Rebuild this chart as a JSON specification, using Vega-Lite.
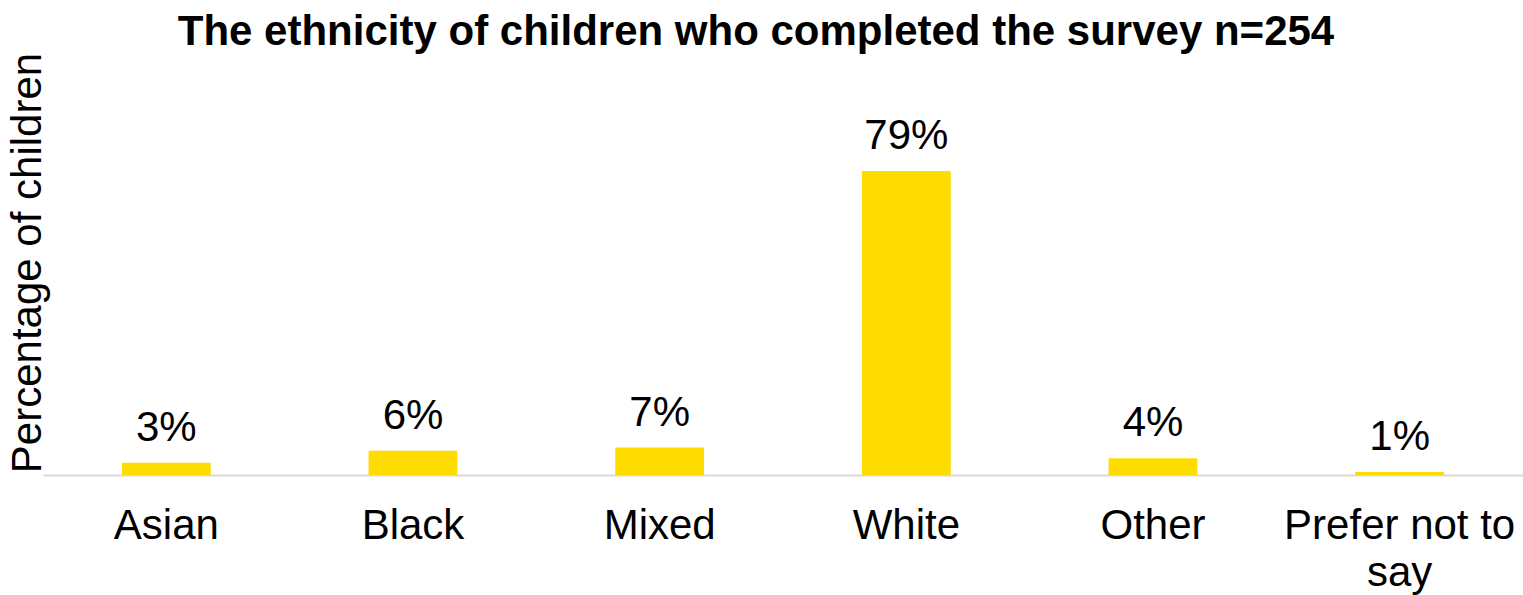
{
  "$schema": "https://vega.github.io/schema/vega-lite/v6.json",
  "autosize": {"type": "none"},
  "padding": {"left": 43, "top": 50, "right": 0, "bottom": 120},
  "width": 1480,
  "height": 425,
  "background": "white",
  "title": {
    "text": "The ethnicity of children who completed the survey n=254",
    "font": "Liberation Sans",
    "fontSize": 42,
    "fontWeight": "bold",
    "color": "#000000",
    "anchor": "middle",
    "dx": -27,
    "offset": -4
  },
  "data": {
    "values": [
      {"ethnicity": "Asian", "share": 0.0315},
      {"ethnicity": "Black", "share": 0.063},
      {"ethnicity": "Mixed", "share": 0.0709},
      {"ethnicity": "White", "share": 0.787},
      {"ethnicity": "Other", "share": 0.0433},
      {"ethnicity": "Prefer not to say", "share": 0.0079}
    ]
  },
  "encoding": {
    "x": {
      "field": "ethnicity",
      "type": "nominal",
      "sort": null,
      "scale": {"paddingInner": 0.64, "paddingOuter": 0.32},
      "axis": {
        "title": null,
        "domainColor": "#d9d9d9",
        "domainWidth": 2,
        "ticks": false,
        "labelAngle": 0,
        "labelFont": "Liberation Sans",
        "labelFontSize": 42,
        "labelColor": "#000000",
        "labelPadding": 30,
        "labelLineHeight": 47,
        "labelLimit": 0,
        "labelExpr": "datum.label == 'Prefer not to say' ? ['Prefer not to', 'say'] : datum.label"
      }
    },
    "y": {
      "field": "share",
      "type": "quantitative",
      "scale": {"domain": [0, 1.1], "nice": false},
      "axis": {
        "title": "Percentage of children",
        "titleFont": "Liberation Sans",
        "titleFontSize": 42,
        "titleFontWeight": "normal",
        "titleColor": "#000000",
        "titlePadding": -6,
        "labels": false,
        "ticks": false,
        "domain": false,
        "grid": false
      }
    }
  },
  "layer": [
    {"mark": {"type": "bar", "color": "#FFDC00"}},
    {
      "mark": {
        "type": "text",
        "font": "Liberation Sans",
        "fontSize": 42,
        "color": "#000000",
        "baseline": "alphabetic",
        "dy": -22
      },
      "encoding": {"text": {"field": "share", "type": "quantitative", "format": ".0%"}}
    }
  ],
  "config": {"view": {"stroke": null}}
}
